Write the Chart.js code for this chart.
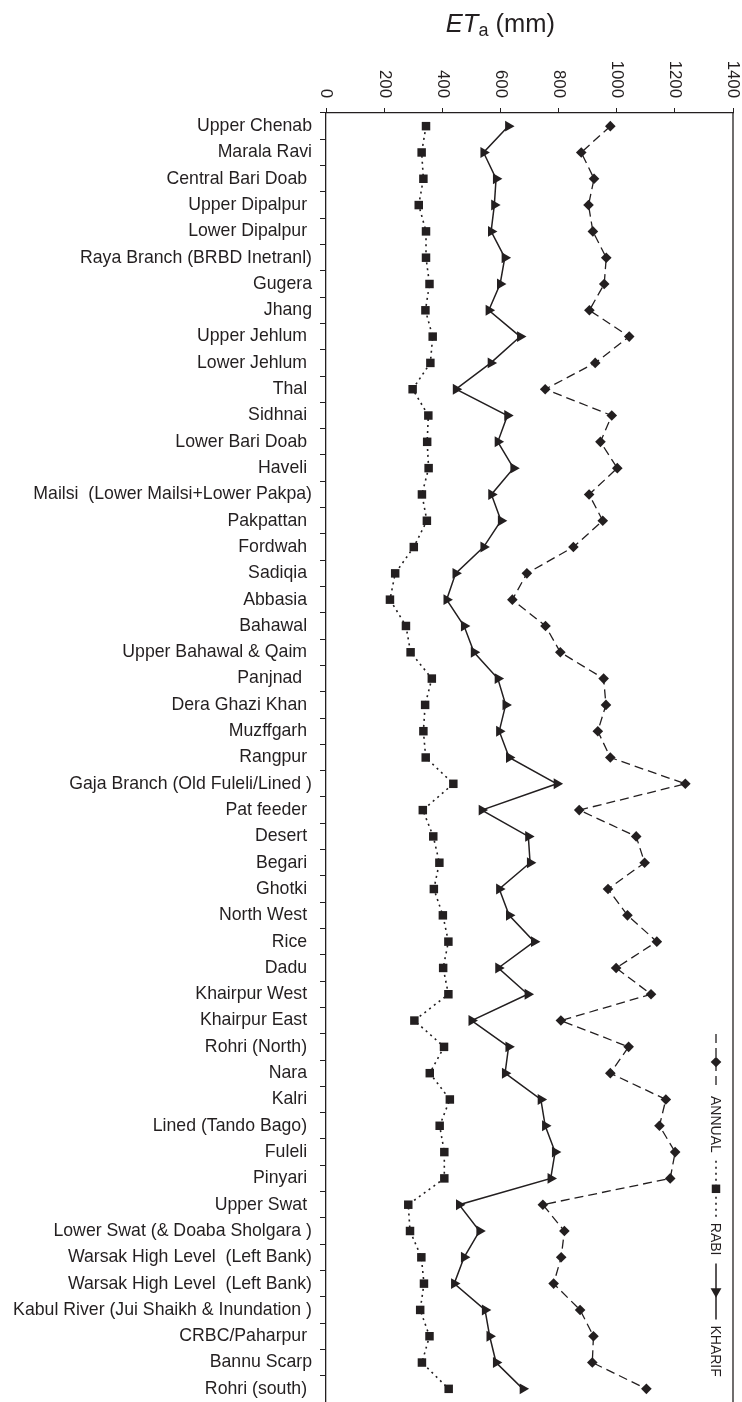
<!DOCTYPE html>
<html>
<head>
<meta charset="utf-8">
<script src="https://cdn.jsdelivr.net/npm/chart.js@4.4.1/dist/chart.umd.min.js"></script>
<style>
    html, body { margin: 0; padding: 0; background: #fff; }
    canvas { display: block; }
</style>
</head>
<body>
<canvas id="chartEta" width="742" height="1402"></canvas>
<script>
// canal commands, top to bottom
const canals = [
    'Upper Chenab', 'Marala Ravi', 'Central Bari Doab ', 'Upper Dipalpur ', 'Lower Dipalpur ',
    'Raya Branch (BRBD Inetranl)', 'Gugera', 'Jhang', 'Upper Jehlum ', 'Lower Jehlum ',
    'Thal ', 'Sidhnai ', 'Lower Bari Doab ', 'Haveli ', 'Mailsi  (Lower Mailsi+Lower Pakpa)',
    'Pakpattan ', 'Fordwah ', 'Sadiqia ', 'Abbasia ', 'Bahawal ',
    'Upper Bahawal & Qaim ', 'Panjnad  ', 'Dera Ghazi Khan ', 'Muzffgarh ', 'Rangpur ',
    'Gaja Branch (Old Fuleli/Lined )', 'Pat feeder ', 'Desert ', 'Begari ', 'Ghotki ',
    'North West ', 'Rice ', 'Dadu ', 'Khairpur West ', 'Khairpur East ',
    'Rohri (North) ', 'Nara ', 'Kalri ', 'Lined (Tando Bago) ', 'Fuleli ',
    'Pinyari ', 'Upper Swat ', 'Lower Swat (& Doaba Sholgara )', 'Warsak High Level  (Left Bank)', 'Warsak High Level  (Left Bank)',
    'Kabul River (Jui Shaikh & Inundation )', 'CRBC/Paharpur ', 'Bannu Scarp', 'Rohri (south) '
]

// ETa in mm
const annual = [
    978, 878, 922, 903, 918, 964, 957, 906, 1043, 926,
    754, 983, 944, 1002, 905, 952, 851, 691, 641, 755,
    806, 955, 963, 935, 978, 1236, 871, 1067, 1096, 970,
    1037, 1138, 998, 1118, 808, 1041, 978, 1169, 1147, 1201,
    1184, 746, 820, 809, 783, 874, 920, 916, 1102
]
const rabi = [
    344, 329, 335, 319, 344, 344, 356, 342, 367, 359,
    298, 352, 348, 353, 330, 347, 302, 238, 220, 275,
    291, 364, 341, 335, 343, 438, 333, 369, 390, 371,
    402, 421, 403, 421, 304, 406, 357, 426, 391, 407,
    407, 283, 289, 328, 337, 324, 356, 330, 422
]
const kharif = [
    627, 542, 585, 579, 568, 615, 599, 560, 668, 567,
    447, 624, 591, 645, 569, 602, 542, 446, 415, 475,
    509, 591, 618, 596, 630, 794, 536, 696, 702, 596,
    630, 716, 593, 694, 501, 628, 616, 739, 754, 788,
    773, 458, 528, 475, 441, 547, 563, 585, 677
]

const xTicks = [0, 200, 400, 600, 800, 1000, 1200, 1400]

const ink = '#231f20'
const face = "'Liberation Sans', Arial, Helvetica, sans-serif"

// axis title, rotated tick labels, right frame and the upright legend
const decor = {
    id: 'decor',
    afterDraw(chart) {
        const { ctx, chartArea: a, scales: { x } } = chart
        ctx.save()

        // right frame
        ctx.strokeStyle = ink
        ctx.lineWidth = 1.3
        ctx.beginPath()
        ctx.moveTo(a.right, a.top - 0.5)
        ctx.lineTo(a.right, a.bottom)
        ctx.stroke()

        // tick labels, turned a quarter clockwise
        ctx.fillStyle = ink
        ctx.font = `16.8px ${face}`
        ctx.textAlign = 'right'
        ctx.textBaseline = 'middle'
        xTicks.forEach(v => {
            ctx.save()
            ctx.translate(x.getPixelForValue(v), a.top - 15)
            ctx.rotate(Math.PI / 2)
            ctx.fillText(String(v), 0, 0)
            ctx.restore()
        })

        // ETa (mm)
        ctx.textAlign = 'left'
        ctx.textBaseline = 'alphabetic'
        const fIt = `italic 25.5px ${face}`, fSub = `18px ${face}`, fMain = `25.5px ${face}`
        ctx.font = fIt
        const wEt = ctx.measureText('ET').width
        ctx.font = fSub
        const wA = ctx.measureText('a').width
        ctx.font = fMain
        const wMm = ctx.measureText(' (mm)').width
        let tx = x.getPixelForValue(600) - (wEt + wA + wMm) / 2
        const ty = 31.5
        ctx.font = fIt
        ctx.fillText('ET', tx, ty)
        tx += wEt
        ctx.font = fSub
        ctx.fillText('a', tx, ty + 4)
        tx += wA
        ctx.font = fMain
        ctx.fillText(' (mm)', tx, ty)

        // legend, read top to bottom
        ctx.translate(716, 1034)
        ctx.rotate(Math.PI / 2)
        ctx.font = `14px ${face}`
        ctx.textBaseline = 'middle'
        const sample = 56
        let pos = 0
        chart.data.datasets.forEach(ds => {
            ctx.save()
            ctx.strokeStyle = ds.borderColor
            ctx.lineWidth = ds.borderWidth
            ctx.setLineDash(ds.borderDash || [])
            ctx.beginPath()
            ctx.moveTo(pos, 0)
            ctx.lineTo(pos + sample, 0)
            ctx.stroke()
            ctx.setLineDash([])
            ctx.fillStyle = ds.pointBackgroundColor
            Chart.helpers.drawPoint(ctx, {
                pointStyle: ds.pointStyle,
                rotation: ds.pointRotation || 0,
                radius: ds.pointRadius,
                borderWidth: 0
            }, pos + sample / 2, 0)
            ctx.restore()
            pos += sample + 6
            ctx.fillStyle = ink
            ctx.fillText(ds.label, pos, 1)
            pos += ctx.measureText(ds.label).width + 8
        })

        ctx.restore()
    }
}

new Chart(document.getElementById('chartEta'), {
    type: 'line',
    data: {
        labels: canals,
        datasets: [
            {
                label: 'ANNUAL',
                data: annual,
                borderColor: ink,
                borderWidth: 1.3,
                borderDash: [9, 5],
                pointStyle: 'rectRot',
                pointRadius: 5.3,
                pointBackgroundColor: ink,
                pointBorderWidth: 0
            },
            {
                label: 'RABI',
                data: rabi,
                borderColor: ink,
                borderWidth: 1.6,
                borderDash: [2, 4],
                pointStyle: 'rect',
                pointRadius: 6,
                pointBackgroundColor: ink,
                pointBorderWidth: 0
            },
            {
                label: 'KHARIF',
                data: kharif,
                borderColor: ink,
                borderWidth: 1.5,
                pointStyle: 'triangle',
                pointRotation: 90,
                pointRadius: 6.3,
                pointBackgroundColor: ink,
                pointBorderWidth: 0
            }
        ]
    },
    options: {
        indexAxis: 'y',
        responsive: false,
        animation: false,
        // no room kept for markers: the plot runs down to the bottom edge
        layout: { autoPadding: false, padding: { right: 9 } },
        elements: { line: { tension: 0 } },
        scales: {
            x: {
                type: 'linear',
                position: 'top',
                min: 0,
                max: 1400,
                ticks: { stepSize: 200, display: false },
                grid: { drawOnChartArea: false, tickLength: 5, color: ink, lineWidth: 1 },
                border: { color: ink, width: 1.3 },
                afterFit: s => { s.height = 113 }
            },
            y: {
                type: 'category',
                offset: true,
                ticks: { autoSkip: false, padding: 8, color: ink, font: { family: face, size: 17.7 } },
                grid: { offset: true, drawOnChartArea: false, tickLength: 6, color: ink, lineWidth: 1 },
                border: { color: ink, width: 1.3 },
                afterFit: s => {
                    s.width = 326
                    s.paddingTop = 0
                    s.paddingBottom = 0
                }
            }
        },
        plugins: {
            legend: { display: false },
            tooltip: { enabled: false },
            title: { display: false }
        }
    },
    plugins: [decor]
})
</script>
</body>
</html>
